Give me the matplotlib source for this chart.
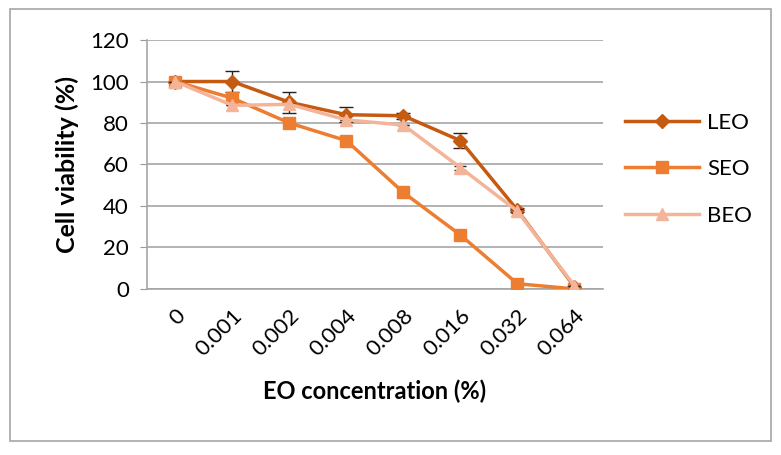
import numpy as np
import matplotlib
matplotlib.use("Agg")
import matplotlib.pyplot as plt
from matplotlib.patches import Rectangle
from matplotlib.lines import Line2D

plt.rcParams['font.family'] = ['Lato', 'DejaVu Sans']

concentrations = ["0", "0.001", "0.002", "0.004", "0.008", "0.016", "0.032", "0.064"]
leo = [100, 100, 90, 84, 83.5, 71.5, 38, 1]
leo_err = [0, 5, 5, 3.5, 1.5, 3.5, 1, 0]
seo = [100, 92, 80, 71.5, 46.5, 26, 2.5, 0]
beo = [100, 88.5, 89, 81.5, 79, 58.5, 37.5, 1.5]
beo_err = [0, 0, 0, 0, 0, 1, 1, 0]

c_leo = "#C55A11"
c_seo = "#ED7D31"
c_beo = "#F4B49A"

fig = plt.figure(figsize=(7.81, 4.55), dpi=100)
ax = fig.add_axes([0.188, 0.365, 0.584, 0.547])

x = np.arange(len(concentrations))

ax.errorbar(x, leo, yerr=leo_err, color=c_leo, ecolor="#222222", elinewidth=1,
            capsize=5, lw=2.5, marker="D", ms=7, zorder=3)
ax.plot(x, seo, color=c_seo, lw=2.5, marker="s", ms=9, zorder=4)
ax.errorbar(x, beo, yerr=beo_err, color=c_beo, ecolor="#222222", elinewidth=1,
            capsize=4, lw=2.5, marker="^", ms=9, zorder=5)

ax.set_xlim(-0.5, len(concentrations) - 0.5)
ax.set_ylim(0, 120)
ax.set_yticks(range(0, 121, 20))
ax.set_xticks(x)
ax.set_xticklabels(concentrations, rotation=45, ha="right", rotation_mode="anchor")
ax.tick_params(axis="x", length=0, labelsize=16, pad=12)
ax.tick_params(axis="y", length=5, color="#999999", labelsize=16, pad=8)

ax.grid(axis="y", color="#A6A6A6", lw=1.2)
ax.set_axisbelow(True)
for side in ["top", "right"]:
    ax.spines[side].set_visible(False)
ax.spines["left"].set_color("#A6A6A6")
ax.spines["bottom"].set_color("#A6A6A6")
ax.spines["left"].set_linewidth(1.2)
ax.spines["bottom"].set_linewidth(1.2)

ax.set_xlabel("EO concentration (%)", fontsize=17, fontweight="bold", labelpad=14)
ax.set_ylabel("Cell viability (%)", fontsize=18, fontweight="bold", labelpad=8)

handles = [
    Line2D([], [], color=c_leo, lw=2.5, marker="D", ms=7),
    Line2D([], [], color=c_seo, lw=2.5, marker="s", ms=9),
    Line2D([], [], color=c_beo, lw=2.5, marker="^", ms=9),
]
fig.legend(handles, ["LEO", "SEO", "BEO"], loc="center left", bbox_to_anchor=(0.775, 0.628),
           frameon=False, fontsize=16, labelspacing=1.2, handlelength=3.3, handletextpad=0.4)

fig.patches.append(Rectangle((0.013, 0.03), 0.974, 0.95, transform=fig.transFigure,
                             fill=False, edgecolor="#A6A6A6", lw=1.2))

fig.savefig("out.png", dpi=100)
